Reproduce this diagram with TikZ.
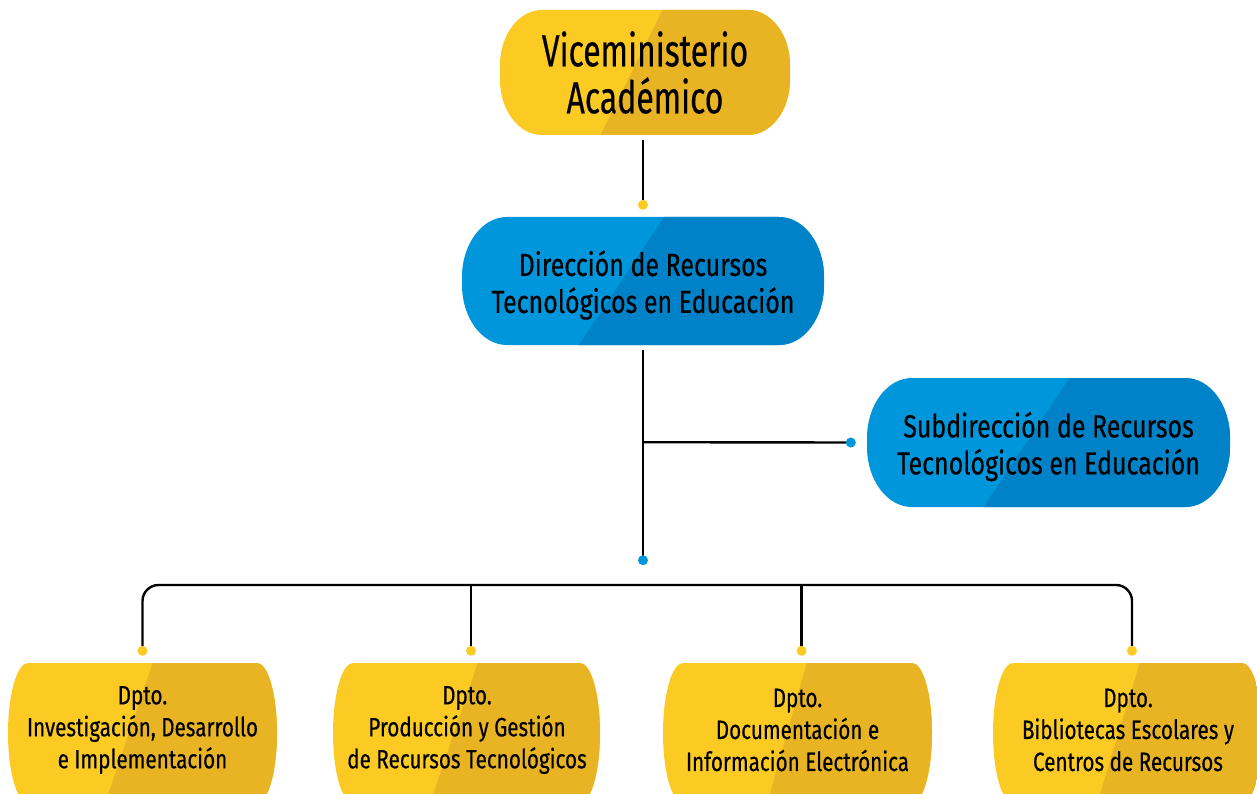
\documentclass[tikz,border=0pt]{standalone}
\usepackage{fontspec}
\setmainfont{Fira Sans}[FakeStretch=0.78,FakeBold=0.35]
\newfontfamily\topfont{Fira Sans}[FakeStretch=0.71,FakeBold=0.35]
\usetikzlibrary{calc}
\definecolor{ylwlight}{RGB}{252,203,35}
\definecolor{ylwdark}{RGB}{232,180,35}
\definecolor{blulight}{RGB}{0,150,219}
\definecolor{bludark}{RGB}{0,130,200}
% #1 x1, #2 y1, #3 x2, #4 y2, #5 rx, #6 ry, #7 split top x, #8 split bottom x, #9 colour prefix
\newcommand{\pillshape}[9]{%
  \begin{scope}
    \path[clip] (#1+#5,#2) -- (#3-#5,#2)
      arc[start angle=-90,end angle=0,x radius=#5,y radius=#6] -- (#3,#4-#6)
      arc[start angle=0,end angle=90,x radius=#5,y radius=#6] -- (#1+#5,#4)
      arc[start angle=90,end angle=180,x radius=#5,y radius=#6] -- (#1,#2+#6)
      arc[start angle=180,end angle=270,x radius=#5,y radius=#6] -- cycle;
    \fill[#9light] (#1-1,#2-1) rectangle (#3+1,#4+1);
    \fill[#9dark] (#7,#2-1) -- (#3+1,#2-1) -- (#3+1,#4+1) -- (#8,#4+1) -- cycle;
  \end{scope}}
\begin{document}
\begin{tikzpicture}[x=1pt,y=-1pt,
  conn/.style={line width=2.4pt,black},
  ydot/.style={fill=ylwlight},
  bdot/.style={fill=blulight},
  boxtext/.style={inner sep=0pt,align=center,text=black},
  toptext/.style={boxtext,font=\topfont\fontsize{45}{47}\selectfont},
  bluetext/.style={boxtext,font=\fontsize{32}{37}\selectfont},
  depttext/.style={boxtext,font=\fontsize{26.5}{32}\selectfont}]
\useasboundingbox (0,0) rectangle (1257,794);
\clip (0,0) rectangle (1257,794);
\fill[white] (0,0) rectangle (1257,794);

% shapes
\pillshape{500}{10}{790}{135}{42}{55}{663}{600}{ylw}
\pillshape{462}{217}{824}{345}{45}{60}{665}{578}{blu}
\pillshape{867}{378}{1230}{507}{45}{60}{1070}{983}{blu}
\pillshape{8}{663}{277}{803}{20}{70}{153}{105}{ylw}
\pillshape{333}{663}{600}{803}{20}{70}{478}{430}{ylw}
\pillshape{663}{663}{932}{803}{20}{70}{807}{767}{ylw}
\pillshape{993}{663}{1262}{803}{20}{70}{1140}{1097}{ylw}

% nodes
\node[toptext,minimum width=290pt,minimum height=125pt] (vm) at (645,72.5) {Viceministerio\\Académico};
\node[bluetext,minimum width=362pt,minimum height=128pt] (dir) at (643,281) {};
\node[bluetext] at (643,285) {Dirección de Recursos\\Tecnológicos en Educación};
\node[bluetext,minimum width=363pt,minimum height=129pt] (sub) at (1048.5,442.5) {};
\node[bluetext] at (1048.5,446.5) {Subdirección de Recursos\\Tecnológicos en Educación};
\node[depttext,minimum width=269pt,minimum height=128pt] (d1) at (142.5,730) {Dpto.\\Investigación, Desarrollo\\e Implementación};
\node[depttext,minimum width=267pt,minimum height=128pt] (d2) at (467,730) {Dpto.\\Producción y Gestión\\de Recursos Tecnológicos};
\node[depttext,minimum width=269pt,minimum height=128pt] (d3) at (797.5,730) {Dpto.\\Documentación e\\Información Electrónica};
\node[depttext,minimum width=269pt,minimum height=128pt] (d4) at (1128,730) {Dpto.\\Bibliotecas Escolares y\\Centros de Recursos};

% connector end points
\coordinate (p0) at ($(dir.north)+(0,-12)$);
\coordinate (p1) at ($(dir.south)+(0,215)$);
\coordinate (pb) at ($(dir.south)+(0,97)$);
\coordinate (ps) at ($(sub.west)+(-16,0)$);
\coordinate (q1) at ($(d1.north)+(0,-15)$);
\coordinate (q2) at ($(d2.north)+(4,-15)$);
\coordinate (q3) at ($(d3.north)+(4,-15)$);
\coordinate (q4) at ($(d4.north)+(4,-15)$);

% connectors
\draw[conn] ($(vm.south)+(-2,5)$) -- (p0);
\draw[conn] ($(dir.south)+(0,5)$) -- (p1);
\draw[conn] (pb) -- (ps);
\draw[conn,rounded corners=16pt] (q1) -- (q1 |- 0,585) -- (q4 |- 0,585) -- (q4);
\draw[conn] (q2 |- 0,585) -- (q2);
\draw[conn] (q3 |- 0,585) -- (q3);

% dots
\fill[ydot] (p0) circle[radius=5];
\fill[bdot] (p1) circle[radius=5];
\fill[bdot] (ps) circle[radius=5];
\foreach \q in {q1,q2,q3,q4} \fill[ydot] (\q) circle[radius=5];
\end{tikzpicture}
\end{document}
